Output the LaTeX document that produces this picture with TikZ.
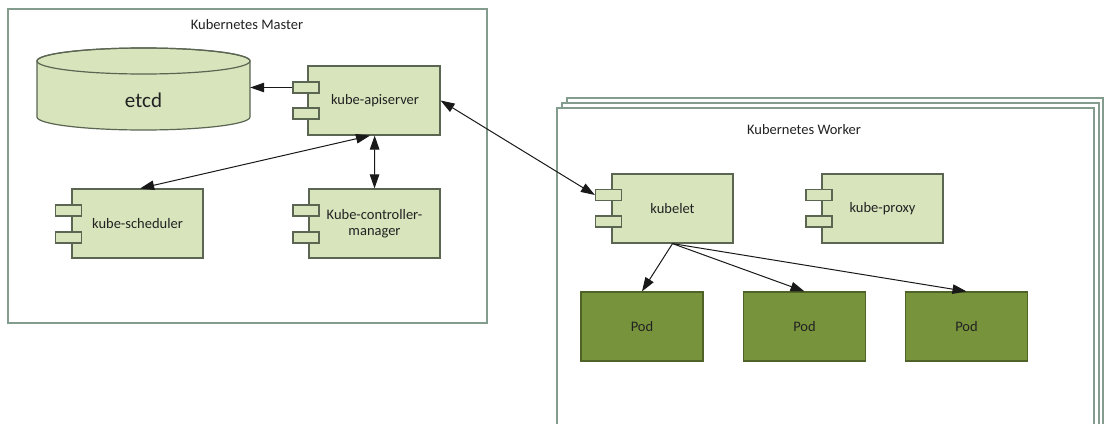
\documentclass[tikz,border=0pt]{standalone}
\usepackage{fontspec}
\setmainfont{Carlito}
\usetikzlibrary{arrows.meta,calc}
\definecolor{lightg}{HTML}{D8E4BC}
\definecolor{compline}{HTML}{5A6552}
\definecolor{podfill}{HTML}{77933C}
\definecolor{podline}{HTML}{4F6228}
\definecolor{frameline}{HTML}{849C8E}
\definecolor{txt}{HTML}{222222}
\tikzset{
  frame/.style={draw=frameline, line width=1.6pt, fill=white},
  comp/.style={draw=compline, fill=lightg, line width=1.2pt, minimum width=131pt, minimum height=69pt, inner sep=0pt, font=\fontsize{14.5}{16}\selectfont, text=txt, align=center},
  port/.style={draw=compline, fill=lightg, line width=1.2pt, minimum width=26pt, minimum height=11pt, inner sep=0pt},
  pod/.style={draw=podline, fill=podfill, line width=1.2pt, minimum width=122pt, minimum height=69pt, inner sep=0pt, font=\fontsize{14.5}{16}\selectfont, text=txt},
  title/.style={font=\fontsize{14.5}{16}\selectfont, text=txt, inner sep=0pt},
  arr/.style={-{Triangle[length=14pt,width=9.5pt]}, line width=1pt, draw=black!90},
  arrb/.style={{Triangle[length=14pt,width=9.5pt]}-{Triangle[length=14pt,width=9.5pt]}, line width=1pt, draw=black!90}
}
\begin{document}
\begin{tikzpicture}[x=1pt,y=-1pt]
\useasboundingbox (0,0) rectangle (1105,423);
\clip (0,0) rectangle (1105,423);
% Master frame
\draw[frame] (8,9) rectangle (487,323);
\node[title] (mtitle) at (247,25) {Kubernetes Master};
% Worker frames (stacked)
\draw[frame] (567,98) rectangle (1103,440);
\draw[frame] (562,103) rectangle (1099,440);
\draw[frame] (557,108) rectangle (1094,440);
\node[title] (wtitle) at (804,130) {Kubernetes Worker};
% etcd cylinder
\path[fill=lightg, draw=compline, line width=1.2pt] (37,61) -- (37,117) arc[start angle=180,end angle=0,x radius=106.5,y radius=13] -- (250,61) arc[start angle=0,end angle=-180,x radius=106.5,y radius=13] -- cycle;
\draw[compline, line width=1.2pt] (143.5,61) ellipse[x radius=106.5, y radius=13];
\node[minimum width=213pt, minimum height=40pt, inner sep=0pt, font=\fontsize{21}{24}\selectfont, text=txt] (etcd) at (143.5,100) {etcd};
% components
\node[comp, minimum width=132pt] (api) at (374,100.5) {\hspace*{2pt}kube-apiserver};
\node[port] (apip1) at (306,87.5) {};
\node[port] (apip2) at (306,113.5) {};
\node[comp] (sched) at (137.5,223.5) {kube-scheduler};
\node[port] (schp1) at (68.5,210.5) {};
\node[port] (schp2) at (68.5,237.5) {};
\node[comp] (ctrl) at (374.5,223.5) {Kube-controller-\\manager};
\node[port] (ctlp1) at (306,210.5) {};
\node[port] (ctlp2) at (306,237.5) {};
\node[comp, minimum width=121pt] (kubelet) at (672.5,208.5) {kubelet};
\node[port] (klp1) at (608.5,195) {};
\node[port] (klp2) at (608.5,221.5) {};
\node[comp, minimum width=121pt] (proxy) at (882.5,208.5) {kube-proxy};
\node[port] (pxp1) at (819,195) {};
\node[port] (pxp2) at (819,221.5) {};
% pods
\node[pod] (pod1) at (642,326.5) {Pod};
\node[pod] (pod2) at (804.5,326.5) {Pod};
\node[pod] (pod3) at (966.5,326.5) {Pod};
% connectors
\draw[arr] (apip1.west) -- (apip1.west -| etcd.east);
\draw[arrb] ($(sched.north west)!0.52!(sched.north east)$) -- ($(api.south west)!0.47!(api.south east)$);
\draw[arrb] ($(ctrl.north west)!0.5!(ctrl.north east)$) -- ($(api.south west)!0.505!(api.south east)$);
\draw[arrb] (api.east) -- (klp1.west);
\draw[arr] (kubelet.south) -- (pod1.north);
\draw[arr] (kubelet.south) -- (pod2.north);
\draw[arr] (kubelet.south) -- (pod3.north);
\end{tikzpicture}
\end{document}
